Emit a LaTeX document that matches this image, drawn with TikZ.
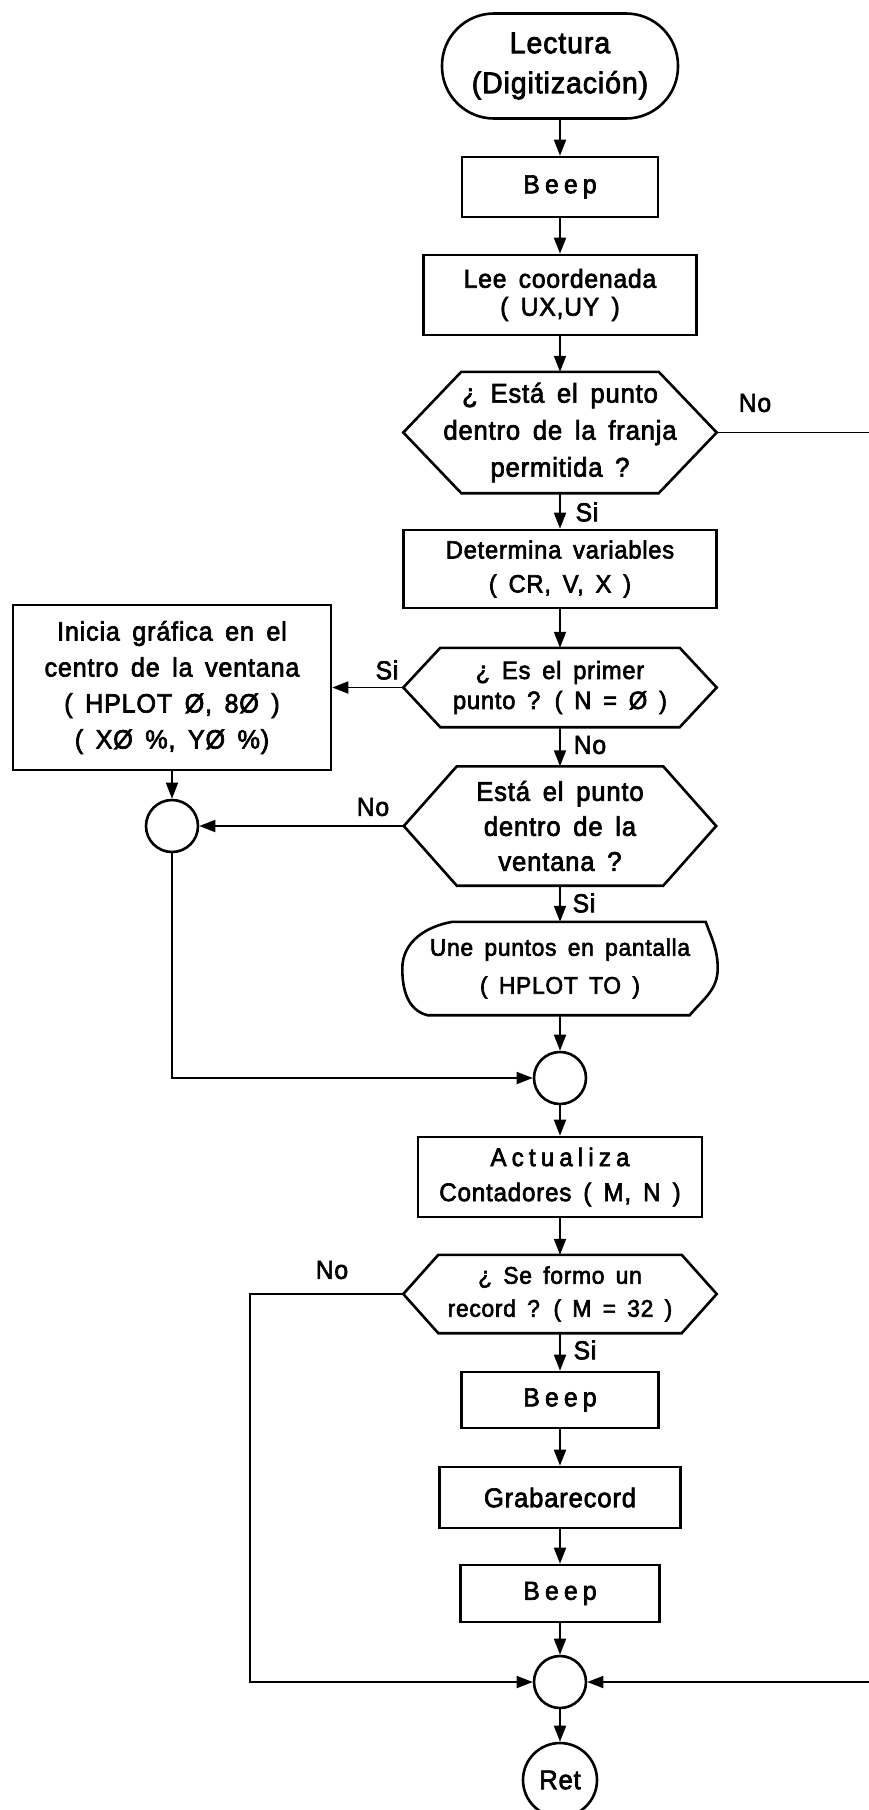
\documentclass[tikz,border=0pt]{standalone}
\usepackage{fontspec}
\setmainfont{Liberation Sans}[FakeStretch=0.95, WordSpace=1.6, LetterSpace=3, FakeBold=2.5]
\usetikzlibrary{arrows.meta}

% font size helper and letter-spaced words
\newcommand\fsz[2]{\fontsize{#1}{#2}\selectfont}
\newcommand\wide[2][20]{{\addfontfeatures{LetterSpace=#1}#2}}

% outline of a decision hexagon drawn on the anchors of a plain node
\newcommand\hexoutline[2]{%
  \draw[shape line] (#1.west) -- ([xshift=#2]#1.north west)
    -- ([xshift=-#2]#1.north east) -- (#1.east)
    -- ([xshift=-#2]#1.south east) -- ([xshift=#2]#1.south west) -- cycle;}

\begin{document}
\begin{tikzpicture}[x=1pt,y=-1pt,
  shape line/.style={line width=2.6pt, line join=miter},
  box/.style={draw, shape line, rectangle, inner sep=0pt, align=center},
  slot/.style={rectangle, inner sep=0pt, align=center},
  junction/.style={draw, shape line, circle, minimum size=52pt, inner sep=0pt},
  flow/.style={line width=1.8pt, -{Triangle[length=16pt,width=12pt]}},
  lbl/.style={font=\fsz{26}{28}, inner sep=0pt},
]
\fill[white] (0,0) rectangle (868,1810);
\useasboundingbox (0,0) rectangle (868,1810);

% ---- main column ----
\node[box, rounded corners=52pt, minimum width=236pt, minimum height=105pt,
      font=\fsz{30}{40}] (start) at (560,66) {Lectura\\(Digitización)};
\node[box, minimum width=196pt, minimum height=60pt, font=\fsz{26}{30}]
      (beepA) at (560,187) {\wide{Beep}};
\node[box, minimum width=273pt, minimum height=80pt, font=\fsz{26}{28}]
      (read) at (560,295) {Lee coordenada\\( UX,UY )};
\node[slot, minimum width=313pt, minimum height=121pt, font=\fsz{27}{37}]
      (band) at (560,432.5) {¿ Está el punto\\dentro de la franja\\permitida ?};
\hexoutline{band}{58}
\node[box, minimum width=313pt, minimum height=78pt, font=\fsz{25}{34}]
      (vars) at (560,569) {Determina variables\\( CR, V, X )};
\node[slot, minimum width=313pt, minimum height=79pt, font=\fsz{25}{30}]
      (first) at (560,687.5) {¿ Es el primer\\punto ? ( N = Ø )};
\hexoutline{first}{37}
\node[box, minimum width=318pt, minimum height=165pt, font=\fsz{26.5}{36}]
      (init) at (172,687.5)
      {Inicia gráfica en el\\centro de la ventana\\( HPLOT Ø, 8Ø )\\( XØ \%, YØ \%)};
\node[slot, minimum width=312pt, minimum height=119pt, font=\fsz{27}{35}]
      (inwin) at (560,826) {Está el punto\\dentro de la\\ventana ?};
\hexoutline{inwin}{53}
\node[junction] (jl) at (172,826) {};
\node[slot, minimum width=315pt, minimum height=93pt, font=\fsz{24}{38}]
      (join) at (560,968.5) {Une puntos en pantalla\\( HPLOT TO )};
\draw[shape line] ([xshift=50]join.north west) -- ([xshift=-12]join.north east)
  to[out=-70,in=90] (join.east) to[out=-90,in=50] ([xshift=-28]join.south east)
  -- ([xshift=25]join.south west) to[out=165,in=-90] (join.west)
  to[out=90,in=190] ([xshift=50]join.north west) -- cycle;
\node[junction] (jm) at (560,1078) {};
\node[box, minimum width=284pt, minimum height=80pt, font=\fsz{25.5}{35}]
      (count) at (560,1177) {\wide{Actualiza}\\Contadores ( M, N )};
\node[slot, minimum width=313pt, minimum height=78pt, font=\fsz{24}{33}]
      (rec) at (560,1294) {¿ Se formo un\\record ? ( M = 32 )};
\hexoutline{rec}{35}
\node[box, minimum width=197pt, minimum height=56pt, font=\fsz{26}{30}]
      (beepB) at (560,1400) {\wide{Beep}};
\node[box, minimum width=241pt, minimum height=61pt, font=\fsz{27}{30}]
      (save) at (560,1497.5) {Grabarecord};
\node[box, minimum width=199pt, minimum height=57pt, font=\fsz{26}{30}]
      (beepC) at (560,1593.5) {\wide{Beep}};
\node[junction] (jb) at (560,1682) {};
\node[draw, shape line, circle, minimum size=74pt, inner sep=0pt,
      font=\fsz{27}{30}] (ret) at (560,1780) {Ret};

% ---- branch labels ----
\node[lbl] (noA) at (755,403) {No};
\node[lbl] (siA) at (587,512) {Si};
\node[lbl] (siB) at (387,670) {Si};
\node[lbl] (noB) at (590,745) {No};
\node[lbl] (noC) at (373,807) {No};
\node[lbl] (siC) at (584,903) {Si};
\node[lbl] (noD) at (332,1270) {No};
\node[lbl] (siD) at (585,1350) {Si};

% ---- connectors ----
\coordinate (rEdge) at (885,0);
\coordinate (lEdge) at (250,0);
\draw[flow] (start.south) -- (beepA.north);
\draw[flow] (beepA.south) -- (read.north);
\draw[flow] (read.south) -- (band.north);
\draw[flow] (band.south) -- (vars.north);
\draw[flow] (band.east) -- (band.east -| rEdge) -- (jb.east -| rEdge) -- (jb.east);
\draw[flow] (vars.south) -- (first.north);
\draw[flow] (first.west) -- (init.east);
\draw[flow] (first.south) -- (inwin.north);
\draw[flow] (init.south) -- (jl.north);
\draw[flow] (inwin.west) -- (jl.east);
\draw[flow] (inwin.south) -- (join.north);
\draw[flow] (join.south) -- (jm.north);
\draw[flow] (jl.south) |- (jm.west);
\draw[flow] (jm.south) -- (count.north);
\draw[flow] (count.south) -- (rec.north);
\draw[flow] (rec.south) -- (beepB.north);
\draw[flow] (rec.west) -- (rec.west -| lEdge) |- (jb.west);
\draw[flow] (beepB.south) -- (save.north);
\draw[flow] (save.south) -- (beepC.north);
\draw[flow] (beepC.south) -- (jb.north);
\draw[flow] (jb.south) -- (ret.north);
\end{tikzpicture}
\end{document}
